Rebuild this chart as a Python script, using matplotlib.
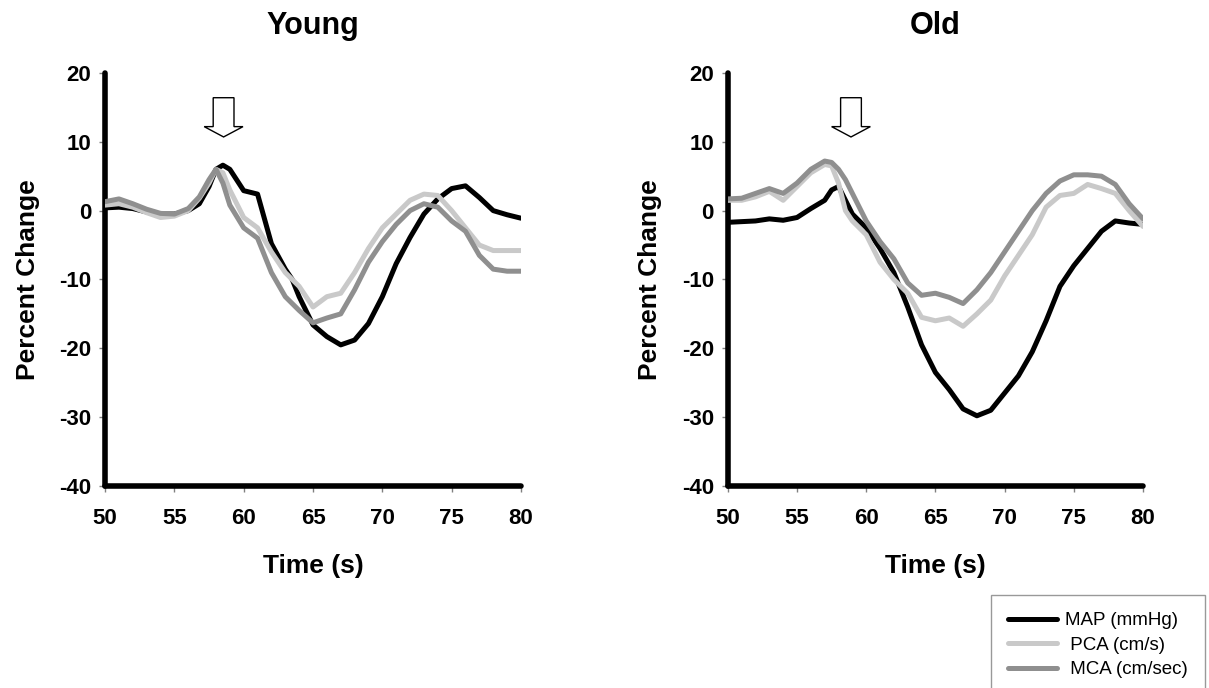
import matplotlib.pyplot as plt
from matplotlib.patches import FancyArrow

# Young group, percent change vs time (s)
young_t = [50, 51, 52, 53, 54, 55, 56, 56.8, 57.5, 58, 58.5, 59, 60, 61, 62, 63, 63.5,
           64, 65, 66, 67, 68, 69, 70, 71, 72, 73, 74, 75, 76, 77, 78, 79, 80]
young_map = [0.4, 0.5, 0.3, -0.2, -0.5, -0.5, 0, 1.0, 3.5, 6.0, 6.6, 6.0, 2.9, 2.4, -4.8, -8.5, -10,
             -12.5, -16.6, -18.3, -19.5, -18.8, -16.4, -12.5, -7.7, -3.9, -0.5, 1.7, 3.2, 3.6, 1.9, 0, -0.6, -1.1]
young_pca = [0.8, 1.0, 0.5, -0.3, -1.0, -0.8, 0, 1.8, 4.0, 6.0, 5.5, 3.0, -1.0, -2.5, -6.0, -9.0, -10,
             -11.0, -14.0, -12.5, -12.0, -9.0, -5.5, -2.5, -0.5, 1.5, 2.4, 2.2, 0, -2.5, -5.0, -5.8, -5.8, -5.8]
young_mca = [1.3, 1.7, 1.0, 0.2, -0.4, -0.5, 0.3, 2.0, 4.5, 6.0, 4.0, 0.8, -2.5, -4.0, -9.0, -12.5, -13.5,
             -14.5, -16.3, -15.6, -15.0, -11.5, -7.5, -4.5, -2.0, 0, 1.0, 0.5, -1.5, -3.0, -6.5, -8.5, -8.8, -8.8]

# Old group
old_t = [50, 51, 52, 53, 54, 55, 56, 57, 57.5, 58, 58.5, 59, 60, 61, 62, 63, 64, 65, 66, 67,
         68, 69, 70, 71, 72, 73, 74, 75, 76, 77, 78, 79, 80]
old_map = [-1.7, -1.6, -1.5, -1.2, -1.4, -1.0, 0.3, 1.5, 3.0, 3.5, 1.5, -0.5, -2.5, -5.5, -9.0, -14.0,
           -19.5, -23.5, -26.0, -28.8, -29.8, -29.0, -26.5, -24.0, -20.5, -16.0, -11.0, -8.0, -5.5,
           -3.0, -1.5, -1.8, -2.0]
old_pca = [1.5, 1.5, 2.0, 2.8, 1.5, 3.5, 5.5, 6.7, 6.5, 4.0, 0, -1.5, -3.5, -7.5, -10.0, -12.0,
           -15.5, -16.0, -15.6, -16.8, -15.0, -13.0, -9.5, -6.5, -3.5, 0.5, 2.2, 2.5, 3.8, 3.2, 2.5, 0, -2.3]
old_mca = [1.7, 1.8, 2.5, 3.2, 2.5, 4.0, 6.0, 7.2, 7.0, 6.0, 4.5, 2.5, -1.5, -4.5, -7.0, -10.5,
           -12.3, -12.0, -12.6, -13.5, -11.5, -9.0, -6.0, -3.0, 0, 2.5, 4.3, 5.2, 5.2, 5.0, 3.8, 1.0, -1.2]

labels = ['MAP (mmHg)', ' PCA (cm/s)', ' MCA (cm/sec)']
colors = ['black', '#c9c9c9', '#8f8f8f']
x_ticks = [50, 55, 60, 65, 70, 75, 80]
y_ticks = [-40, -30, -20, -10, 0, 10, 20]

plt.rcParams['font.family'] = ['Liberation Sans', 'DejaVu Sans']
plt.rcParams['axes.unicode_minus'] = False

fig = plt.figure(figsize=(12.09, 6.88), dpi=100)
ax1 = fig.add_axes([0.0869, 0.2936, 0.344, 0.6004])
ax2 = fig.add_axes([0.602, 0.2936, 0.3434, 0.6004])

panels = [(ax1, 'Young', young_t, [young_map, young_pca, young_mca], 58.55),
          (ax2, 'Old', old_t, [old_map, old_pca, old_mca], 58.9)]

lines = []
for ax, title, t, series, arrow_x in panels:
    lines = []
    for s, c, lab in zip(series, colors, labels):
        ln, = ax.plot(t, s, color=c, lw=3.6, label=lab, solid_capstyle='round',
                      solid_joinstyle='round', zorder=3)
        lines.append(ln)
    ax.set_xlim(50, 80)
    ax.set_ylim(-40, 20)
    ax.set_xticks(x_ticks)
    ax.set_yticks(y_ticks)
    for side in ['top', 'right']:
        ax.spines[side].set_visible(False)
    for side in ['left', 'bottom']:
        ax.spines[side].set_linewidth(4)
        ax.spines[side].set_capstyle('round')
    ax.tick_params(direction='out', length=4, width=1, color='#808080', labelsize=16)
    ax.tick_params(axis='x', pad=12)
    ax.tick_params(axis='y', pad=6)
    for lab in ax.get_xticklabels() + ax.get_yticklabels():
        lab.set_fontweight('bold')
    ax.set_title(title, fontsize=22, fontweight='bold', pad=28)
    ax.set_xlabel('Time (s)', fontsize=19, fontweight='bold', labelpad=18)
    ax.set_ylabel('Percent Change', fontsize=19, fontweight='bold', labelpad=14)
    # hollow down arrow marking the stimulus
    ax.add_patch(FancyArrow(arrow_x, 16.4, 0, -5.7, width=1.5, head_width=2.8,
                            head_length=1.5, length_includes_head=True,
                            facecolor='white', edgecolor='black', lw=1, clip_on=False, zorder=4))

leg = fig.legend(lines, labels, loc='upper left', bbox_to_anchor=(0.8197, 0.135),
                 fontsize=13.5, frameon=True, fancybox=False, edgecolor='#808080',
                 handlelength=2.6, handletextpad=0.45, borderpad=0.9,
                 labelspacing=0.4, borderaxespad=0)
leg.get_frame().set_linewidth(1)

fig.savefig('out.png', dpi=100)
